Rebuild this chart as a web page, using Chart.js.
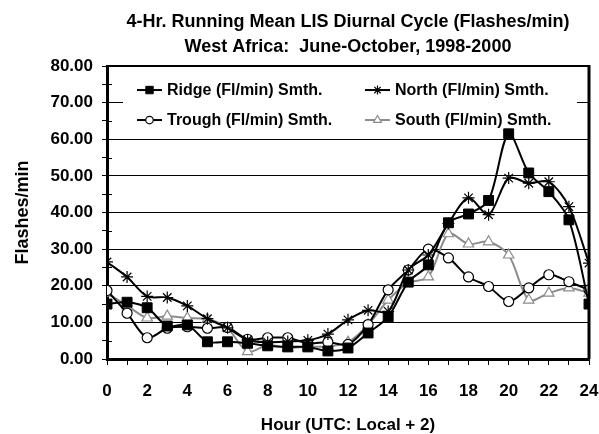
<!DOCTYPE html>
<html>
<head>
<meta charset="utf-8">
<script src="https://cdn.jsdelivr.net/npm/chart.js@4"></script>
<style>
  html, body { margin: 0; padding: 0; background: #fff; }
  #wrap { width: 599px; height: 434px; }
</style>
</head>
<body>
<div id="wrap"><canvas id="lisChart" width="599" height="434"></canvas></div>
<script>
// hours along the x axis
const hours = [0, 1, 2, 3, 4, 5, 6, 7, 8, 9, 10, 11, 12, 13, 14, 15, 16, 17, 18, 19, 20, 21, 22, 23, 24];

// flashes/min
const ridge  = [15.0, 15.5, 14.0, 9.0, 9.3, 4.7, 4.7, 4.3, 3.6, 3.3, 3.3, 2.2, 3.0, 7.1, 11.5, 21.0, 25.7, 37.2, 39.6, 43.3, 61.5, 50.8, 45.7, 38.0, 15.0];
const north  = [26.5, 22.4, 17.1, 16.8, 14.5, 11.0, 8.5, 5.2, 4.6, 4.8, 5.1, 6.8, 10.7, 13.3, 13.0, 24.3, 28.4, 37.0, 44.0, 39.4, 49.4, 48.0, 48.4, 41.6, 26.2];
const trough = [18.7, 12.5, 5.8, 8.4, 8.8, 8.4, 8.6, 5.4, 5.8, 5.8, 4.3, 4.6, 4.0, 9.4, 18.9, 24.3, 30.0, 27.6, 22.4, 19.8, 15.7, 19.4, 23.0, 21.1, 18.9];
const south  = [18.0, 14.6, 11.2, 11.7, 11.2, 10.9, 8.4, 2.0, 3.8, 3.0, 3.4, 3.4, 4.6, 9.3, 16.1, 20.8, 22.4, 34.2, 31.4, 32.0, 28.4, 16.1, 18.0, 19.4, 18.0];

const seriesNames = ['Ridge (Fl/min) Smth.', 'North (Fl/min) Smth.', 'Trough (Fl/min) Smth.', 'South (Fl/min) Smth.'];
const titleLines = ['4-Hr. Running Mean LIS Diurnal Cycle (Flashes/min)', 'West Africa:  June-October, 1998-2000'];

const FONT = "'Liberation Sans', Arial, sans-serif";
const GREY = '#8c8c8c';

const toPoints = (vals) => hours.map((h, i) => ({x: h, y: vals[i]}));

const datasets = [
    {label: seriesNames[0], data: toPoints(ridge), borderColor: '#000', backgroundColor: '#000',
        pointStyle: 'rect', pointRadius: 7, pointBorderWidth: 1},
    {label: seriesNames[1], data: toPoints(north), borderColor: '#000', backgroundColor: '#000',
        pointStyle: 'star', pointRadius: 6, pointBorderWidth: 1.2},
    {label: seriesNames[2], data: toPoints(trough), borderColor: '#000', backgroundColor: '#fff',
        pointStyle: 'circle', pointRadius: 5, pointBorderWidth: 1.2},
    {label: seriesNames[3], data: toPoints(south), borderColor: GREY, backgroundColor: '#fff',
        pointStyle: 'triangle', pointRadius: 6, pointBorderWidth: 1.2}
].map(d => Object.assign({borderWidth: 2, tension: 0.3, pointHoverRadius: d.pointRadius}, d));

// legend drawn inside the plot, on a white box that hides the 70 gridline
const insideLegend = {
    id: 'insideLegend',
    beforeDatasetsDraw(chart) {
        const {ctx, chartArea} = chart;
        ctx.save();
        ctx.fillStyle = '#fff';
        ctx.fillRect(chartArea.left + 16, chartArea.top + 2, chartArea.width - 28, 70);
        const cols = [chartArea.left + 30, chartArea.left + 258];
        const rows = [chartArea.top + 24, chartArea.top + 54];
        const slots = [[0, 0], [1, 0], [0, 1], [1, 1]];
        ctx.font = `bold 16px ${FONT}`;
        ctx.textBaseline = 'middle';
        ctx.textAlign = 'left';
        datasets.forEach((ds, i) => {
            const x = cols[slots[i][0]];
            const y = rows[slots[i][1]];
            ctx.strokeStyle = ds.borderColor;
            ctx.lineWidth = 2;
            ctx.beginPath();
            ctx.moveTo(x, y);
            ctx.lineTo(x + 25, y);
            ctx.stroke();
            ctx.fillStyle = ds.backgroundColor;
            ctx.lineWidth = ds.pointBorderWidth;
            Chart.helpers.drawPoint(ctx, {
                pointStyle: ds.pointStyle,
                rotation: 0,
                radius: ds.pointRadius * 0.75,
                borderWidth: ds.pointBorderWidth
            }, x + 12.5, y);
            ctx.fillStyle = '#000';
            ctx.fillText(ds.label, x + 30, y + 1);
        });
        ctx.restore();
    },
    afterDraw(chart) {
        const {ctx, chartArea, scales} = chart;
        ctx.save();
        ctx.strokeStyle = '#000';
        // plot frame: top and right
        ctx.lineWidth = 2;
        ctx.beginPath();
        ctx.moveTo(chartArea.left, chartArea.top);
        ctx.lineTo(chartArea.right, chartArea.top);
        ctx.stroke();
        ctx.lineWidth = 3;
        ctx.beginPath();
        ctx.moveTo(chartArea.right, chartArea.top - 1);
        ctx.lineTo(chartArea.right, chartArea.bottom);
        ctx.stroke();
        // minor y ticks cross the axis
        ctx.lineWidth = 1;
        for (let v = 5; v < 80; v += 10) {
            const y = Math.round(scales.y.getPixelForValue(v)) + 0.5;
            ctx.beginPath();
            ctx.moveTo(chartArea.left, y);
            ctx.lineTo(chartArea.left + 5, y);
            ctx.stroke();
        }
        ctx.restore();
    }
};

new Chart(document.getElementById('lisChart'), {
    type: 'line',
    data: {datasets},
    plugins: [insideLegend],
    options: {
        responsive: false,
        animation: false,
        events: [],
        layout: {padding: {left: 0, right: 0, top: 0, bottom: 0}},
        plugins: {
            legend: {display: false},
            tooltip: {enabled: false},
            title: {
                display: true,
                fullSize: false,
                text: titleLines,
                color: '#000',
                font: {family: FONT, size: 18, weight: 'bold', lineHeight: 1.39},
                padding: {top: 10, bottom: 6}
            }
        },
        scales: {
            x: {
                type: 'linear',
                min: 0,
                max: 24,
                afterFit: (scale) => {
                    scale.height = 75;
                    scale.paddingLeft = 0;
                    scale.paddingRight = 10;
                },
                border: {color: '#000', width: 3},
                grid: {drawOnChartArea: false, color: '#000', tickColor: '#000', tickLength: 6},
                ticks: {
                    stepSize: 1,
                    autoSkip: false,
                    maxRotation: 0,
                    padding: 16,
                    color: '#000',
                    font: {family: FONT, size: 17, weight: 'bold'},
                    callback: (v) => (v % 2 === 0 ? String(v) : '')
                },
                title: {
                    display: true,
                    text: 'Hour (UTC: Local + 2)',
                    color: '#000',
                    font: {family: FONT, size: 17, weight: 'bold'},
                    padding: {top: 0, bottom: -2}
                }
            },
            y: {
                min: 0,
                max: 80,
                afterFit: (scale) => { scale.width = 107; },
                border: {color: '#000', width: 3},
                grid: {
                    color: (c) => (c.tick && c.tick.value % 10 === 0 ? '#000' : 'rgba(0,0,0,0)'),
                    tickColor: '#000',
                    tickLength: 5,
                    lineWidth: 1
                },
                ticks: {
                    stepSize: 5,
                    autoSkip: false,
                    padding: 9,
                    color: '#000',
                    font: {family: FONT, size: 17, weight: 'bold'},
                    callback: (v) => (v % 10 === 0 ? v.toFixed(2) : '')
                },
                title: {
                    display: true,
                    text: 'Flashes/min',
                    color: '#000',
                    font: {family: FONT, size: 18, weight: 'bold'},
                    padding: {top: 12, bottom: 0}
                }
            }
        }
    }
});
</script>
</body>
</html>
